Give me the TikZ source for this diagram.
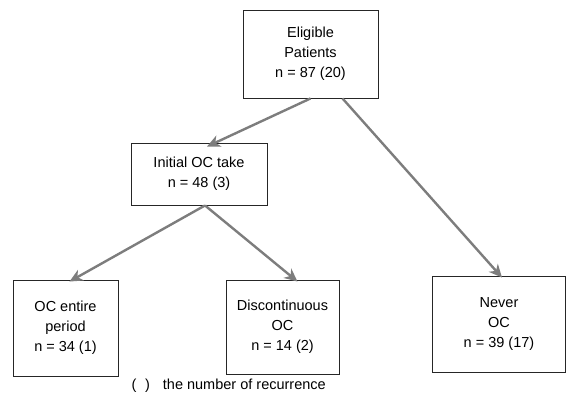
\documentclass[tikz,border=0pt]{standalone}
\usepackage{fontspec}
\setmainfont{Liberation Sans}
\usepackage{tikz}
\usetikzlibrary{arrows.meta}
\definecolor{A}{RGB}{125, 125, 125}
\tikzset{box/.style={draw=black!85, line width=0.9pt, align=center, inner sep=2pt, font=\fontsize{14.5}{20}\selectfont},
  arr/.style={A, line width=2.4pt, -{Stealth[length=13pt, width=12pt, inset=4pt]}}}

\begin{document}
\begin{tikzpicture}[x=1pt,y=-1pt]
  \useasboundingbox (0,0) rectangle (567,394);
  \node[box, minimum width=135pt, minimum height=88pt] (elig) at (310.5,54) {Eligible\\Patients\\n = 87 (20)};
  \node[box, minimum width=136pt, minimum height=62pt] (init) at (199,174) {Initial OC take\\n = 48 (3)};
  \node[box, minimum width=105pt, minimum height=96pt] (entire) at (65.5,328) {OC entire\\period\\n = 34 (1)};
  \node[box, minimum width=113pt, minimum height=94pt] (disc) at (282.5,327) {Discontinuous\\OC\\n = 14 (2)};
  \node[box, minimum width=133pt, minimum height=96pt] (never) at (499,324) {Never\\OC\\n = 39 (17)};
  \node[anchor=west, font=\fontsize{14.5}{16}\selectfont] (note) at (128,386) {(\hspace{0.6em})\hspace{0.9em}the number of recurrence};
  \draw[arr] (elig.south) -- ([xshift=8pt, yshift=-4pt]init.north);
  \draw[arr] ([xshift=32pt]elig.south) -- ([xshift=3pt, yshift=-2pt]never.north);
  \draw[arr] ([xshift=6pt]init.south) -- ([xshift=4pt, yshift=-2pt]entire.north);
  \draw[arr] ([xshift=6pt]init.south) -- ([xshift=15pt, yshift=-2pt]disc.north);
\end{tikzpicture}
\end{document}
